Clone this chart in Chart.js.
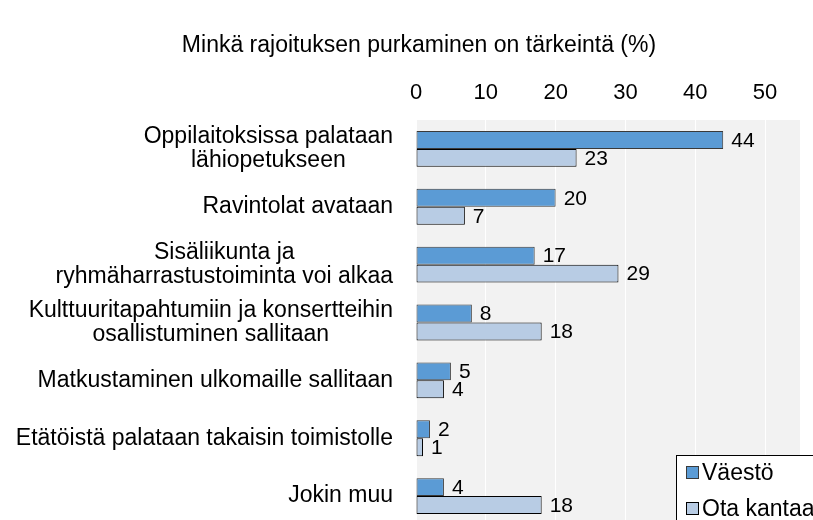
<!DOCTYPE html>
<html>
<head>
<meta charset="utf-8">
<script src="https://cdn.jsdelivr.net/npm/chart.js@4"></script>
<style>
  html, body { margin: 0; padding: 0; background: #fff; overflow: hidden; }
  #wrap { width: 813px; height: 520px; overflow: hidden; }
  #box { width: 838px; height: 535px; }
</style>
</head>
<body>
<div id="wrap"><div id="box"><canvas id="chart"></canvas></div></div>
<script>
const categories = [
  ["Oppilaitoksissa palataan", "lähiopetukseen"],
  ["Ravintolat avataan"],
  ["Sisäliikunta ja", "ryhmäharrastustoiminta voi alkaa"],
  ["Kulttuuritapahtumiin ja konsertteihin", "osallistuminen sallitaan"],
  ["Matkustaminen ulkomaille sallitaan"],
  ["Etätöistä palataan takaisin toimistolle"],
  ["Jokin muu"]
];
const vaesto = [44, 20, 17, 8, 5, 2, 4];
const otaKantaa = [23, 7, 29, 18, 4, 1, 18];
const xTicks = [0, 10, 20, 30, 40, 50];

const FONT = "'Liberation Sans', Arial, sans-serif";

// gray plot background
const plotBg = {
  id: 'plotBg',
  beforeDraw(chart) {
    const {ctx, chartArea: a} = chart;
    ctx.save();
    ctx.fillStyle = '#f2f2f2';
    ctx.fillRect(a.left, a.top, a.right - a.left, a.bottom - a.top);
    ctx.restore();
  }
};

// category labels: block right aligned, lines centered inside block
const catLabels = {
  id: 'catLabels',
  afterDraw(chart) {
    const {ctx} = chart;
    const ys = chart.scales.y;
    ctx.save();
    ctx.font = '23px ' + FONT;
    ctx.fillStyle = '#000';
    ctx.textAlign = 'center';
    ctx.textBaseline = 'middle';
    const right = chart.chartArea.left - 23;
    const lh = 24;
    categories.forEach((lines, i) => {
      const w = Math.max(...lines.map(l => ctx.measureText(l).width));
      const cx = right - w / 2;
      const cy = ys.getPixelForValue(i);
      const y0 = cy - (lines.length - 1) * lh / 2;
      lines.forEach((l, k) => ctx.fillText(l, cx, y0 + k * lh));
    });
    ctx.restore();
  }
};

// value labels after the bars
const valueLabels = {
  id: 'valueLabels',
  afterDatasetsDraw(chart) {
    const {ctx} = chart;
    ctx.save();
    ctx.font = '21px ' + FONT;
    ctx.fillStyle = '#000';
    ctx.textAlign = 'left';
    ctx.textBaseline = 'middle';
    chart.data.datasets.forEach((ds, di) => {
      chart.getDatasetMeta(di).data.forEach((bar, i) => {
        ctx.fillText(ds.data[i], bar.x + 8, bar.y + 1);
      });
    });
    ctx.restore();
  }
};

// boxed legend in the lower right corner of the plot
const boxLegend = {
  id: 'boxLegend',
  afterDraw(chart) {
    const {ctx, chartArea: a} = chart;
    const x = a.right - 124, y = a.bottom - 70;
    ctx.save();
    ctx.fillStyle = '#fff';
    ctx.strokeStyle = '#000';
    ctx.lineWidth = 1;
    ctx.fillRect(x, y, 200, 120);
    ctx.strokeRect(x + 0.5, y + 0.5, 200, 120);
    ctx.font = '23px ' + FONT;
    ctx.textBaseline = 'middle';
    chart.data.datasets.forEach((ds, i) => {
      const ly = y + 18 + i * 36;
      ctx.fillStyle = ds.backgroundColor;
      ctx.fillRect(x + 10.5, ly - 6.5, 12, 12);
      ctx.strokeStyle = ds.borderColor;
      ctx.strokeRect(x + 10.5, ly - 6.5, 12, 12);
      ctx.fillStyle = '#000';
      ctx.fillText(ds.label, x + 26, ly + 1);
    });
    ctx.restore();
  }
};

new Chart(document.getElementById('chart').getContext('2d'), {
  type: 'bar',
  data: {
    labels: categories,
    datasets: [{
      label: 'Väestö',
      data: vaesto,
      backgroundColor: '#5b9bd5',
      borderColor: '#3a3a3a',
      borderWidth: 1,
      borderSkipped: false,
      categoryPercentage: 0.62,
      barPercentage: 1
    }, {
      label: 'Ota kantaa',
      data: otaKantaa,
      backgroundColor: '#b8cce4',
      borderColor: '#000',
      borderWidth: 1,
      borderSkipped: false,
      categoryPercentage: 0.62,
      barPercentage: 1
    }]
  },
  options: {
    indexAxis: 'y',
    responsive: true,
    maintainAspectRatio: false,
    animation: false,
    layout: { padding: { left: 38, right: 38, top: 0, bottom: 10 } },
    plugins: {
      legend: { display: false },
      tooltip: { enabled: false },
      title: {
        display: true,
        text: 'Minkä rajoituksen purkaminen on tärkeintä (%)',
        color: '#000',
        font: { family: FONT, size: 23, weight: 'normal' },
        padding: { top: 32, bottom: 6 }
      }
    },
    scales: {
      x: {
        position: 'top',
        min: 0,
        max: 55,
        afterBuildTicks(scale) { scale.ticks = xTicks.map(v => ({value: v})); },
        ticks: {
          color: '#000',
          font: { family: FONT, size: 22 },
          padding: 14
        },
        grid: { color: '#fff', lineWidth: 1, drawTicks: false },
        border: { display: false }
      },
      y: {
        afterFit(scale) { scale.width = 378; },
        ticks: { display: false },
        grid: { display: false },
        border: { display: false }
      }
    }
  },
  plugins: [plotBg, valueLabels, catLabels, boxLegend]
});
</script>
</body>
</html>
